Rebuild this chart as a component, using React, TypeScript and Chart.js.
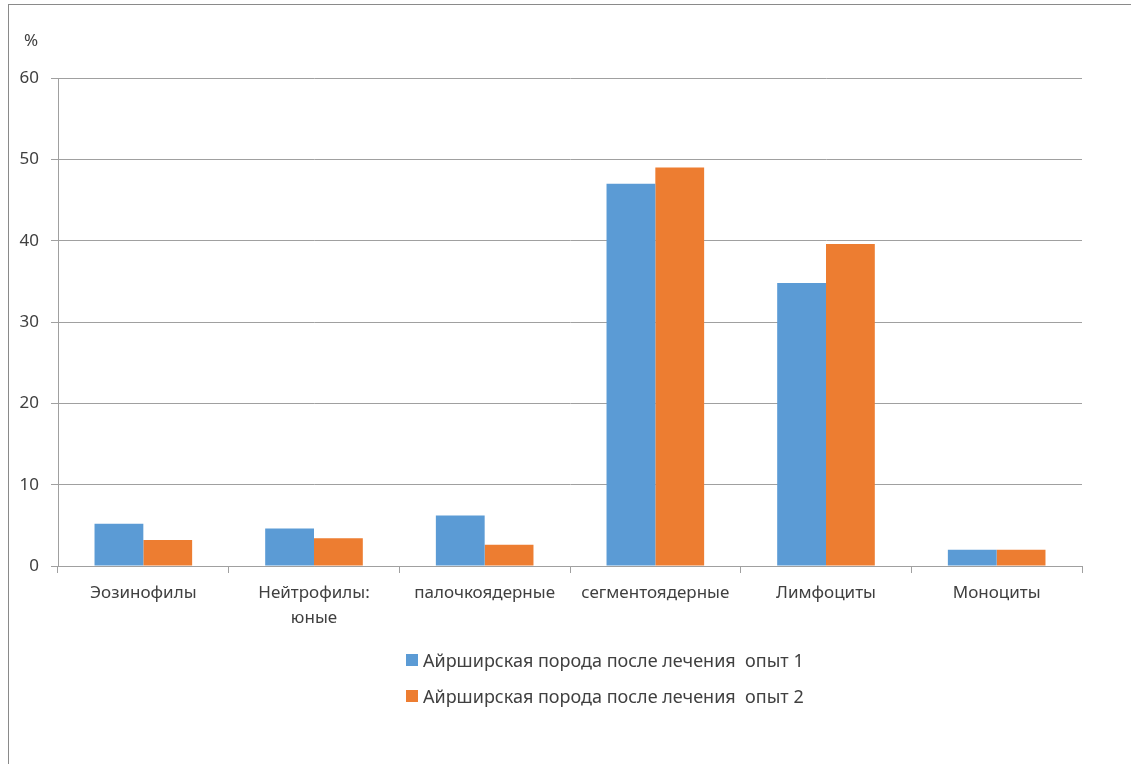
import { useEffect, useRef } from "react";
import { Chart, registerables } from "chart.js";

Chart.register(...registerables);

// Blood-cell categories along the x axis
const categories: (string | string[])[] = [
  "Эозинофилы",
  ["Нейтрофилы:", "юные"],
  "палочкоядерные",
  "сегментоядерные",
  "Лимфоциты",
  "Моноциты",
];

const seriesNames = [
  "Айрширская порода после лечения  опыт 1",
  "Айрширская порода после лечения  опыт 2",
];

// Percent values per series
const trial1 = [5.2, 4.6, 6.2, 47.0, 34.8, 2.0];
const trial2 = [3.2, 3.4, 2.6, 49.0, 39.6, 2.0];

const seriesColors = ["#5B9BD5", "#ED7D31"];

const yMin = 0;
const yMax = 60;
const yStep = 10;
const yUnit = "%";

const FONT = "'Noto Sans', 'DejaVu Sans', sans-serif";
const TEXT = "#404040";
const GRID = "#a0a0a0";

export default function App() {
  const canvasRef = useRef<HTMLCanvasElement>(null);

  useEffect(() => {
    const canvas = canvasRef.current;
    if (!canvas) return;
    const chart = new Chart(canvas, {
      type: "bar",
      data: {
        labels: categories,
        datasets: [
          {
            label: seriesNames[0],
            data: trial1,
            backgroundColor: seriesColors[0],
            borderWidth: 0,
            categoryPercentage: 0.572,
            barPercentage: 1,
          },
          {
            label: seriesNames[1],
            data: trial2,
            backgroundColor: seriesColors[1],
            borderWidth: 0,
            categoryPercentage: 0.572,
            barPercentage: 1,
          },
        ],
      },
      options: {
        animation: false,
        responsive: false,
        devicePixelRatio: 1,
        layout: { padding: { left: 8, top: 78, right: 49, bottom: 138 } },
        plugins: {
          legend: { display: false },
          tooltip: { enabled: false },
        },
        scales: {
          x: {
            grid: {
              offset: true,
              drawOnChartArea: false,
              drawTicks: true,
              tickLength: 7,
              color: GRID,
              lineWidth: 1,
            },
            border: { display: true, color: GRID, width: 1 },
            ticks: {
              autoSkip: false,
              maxRotation: 0,
              minRotation: 0,
              padding: 7,
              color: TEXT,
              font: { family: FONT, size: 17, lineHeight: 1.5 },
            },
            afterFit: (s: any) => {
              s.height = 60;
            },
          },
          y: {
            min: yMin,
            max: yMax,
            grid: {
              color: GRID,
              lineWidth: 1,
              drawTicks: true,
              tickLength: 7,
            },
            border: { display: true, color: GRID, width: 1 },
            ticks: {
              stepSize: yStep,
              padding: 12,
              color: TEXT,
              font: { family: FONT, size: 17 },
            },
            afterFit: (s: any) => {
              s.width = 50;
            },
          },
        },
      },
    });
    return () => chart.destroy();
  }, []);

  return (
    <div
      style={{
        position: "absolute",
        left: 0,
        top: 0,
        width: 1131,
        height: 764,
        overflow: "hidden",
        background: "#fff",
        fontFamily: FONT,
      }}
    >
      <div
        style={{
          position: "absolute",
          left: 8,
          top: 4,
          width: 1200,
          height: 900,
          border: "1px solid #8a8a8a",
          boxSizing: "border-box",
        }}
      />
      <canvas
        ref={canvasRef}
        width={1131}
        height={764}
        style={{ position: "absolute", left: 0, top: 0, width: 1131, height: 764 }}
      />
      <div
        style={{
          position: "absolute",
          left: 24,
          top: 28,
          fontSize: 17,
          color: TEXT,
          lineHeight: "24px",
        }}
      >
        {yUnit}
      </div>
      {seriesNames.map((name, i) => (
        <div
          key={name}
          style={{
            position: "absolute",
            left: 406,
            top: 648 + i * 36,
            height: 24,
            display: "flex",
            alignItems: "center",
            whiteSpace: "pre",
            fontSize: 18,
            color: TEXT,
          }}
        >
          <span
            style={{
              display: "inline-block",
              width: 12,
              height: 12,
              background: seriesColors[i],
              marginRight: 5,
            }}
          />
          <span>{name}</span>
        </div>
      ))}
    </div>
  );
}
